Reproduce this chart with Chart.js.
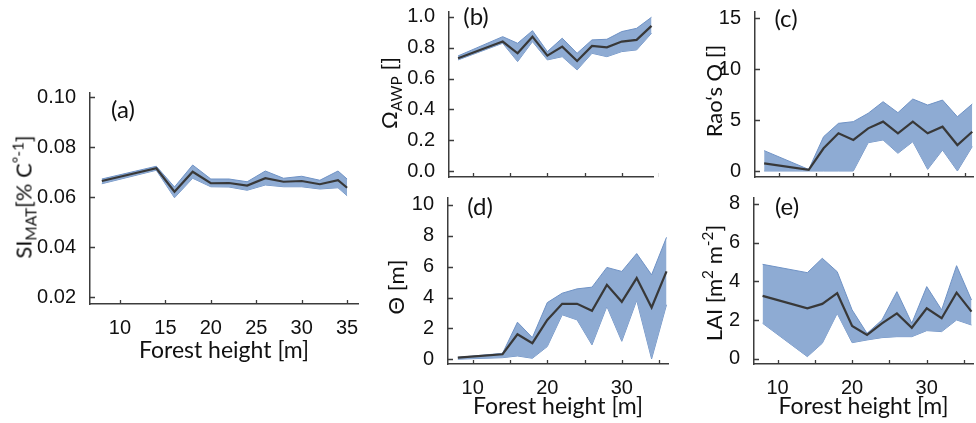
<!DOCTYPE html>
<html>
<head>
<meta charset="utf-8">
<script src="https://cdn.jsdelivr.net/npm/chart.js@4.4.1/dist/chart.umd.min.js"></script>
<style>
  body { margin: 0; background: #fff; }
  #fig { position: relative; width: 976px; height: 423px; overflow: hidden; font-family: Lato, "Open Sans", sans-serif; color: #111; }
  canvas { position: absolute; }
  .ytitle { position: absolute; transform: translate(-50%, -50%) rotate(-90deg); white-space: nowrap; font-size: 22px; }
  .tag { position: absolute; transform: translate(-50%, -50%); font-size: 24px; }
  sub, sup { font-size: 0.7em; line-height: 0; }
</style>
</head>
<body>
<div id="fig">
  <canvas id="panelA" width="366" height="284" style="left:0px;top:80px"></canvas>
  <canvas id="panelB" width="260" height="183" style="left:399px;top:0px"></canvas>
  <canvas id="panelC" width="266" height="183" style="left:710px;top:0px"></canvas>
  <canvas id="panelD" width="276" height="234" style="left:398px;top:186px"></canvas>
  <canvas id="panelE" width="267" height="234" style="left:709px;top:186px"></canvas>

  <div class="ytitle" style="left:23px;top:197px">SI<sub>MAT</sub>[% C<sup>°-1</sup>]</div>
  <div class="ytitle" style="left:388px;top:93px">Ω<sub>AWP</sub> []</div>
  <div class="ytitle" style="left:713px;top:91px">Rao‘s Q []</div>
  <div class="ytitle" style="left:395px;top:287px">Θ [m]</div>
  <div class="ytitle" style="left:713px;top:283px">LAI [m<sup>2</sup> m<sup>-2</sup>]</div>

  <div class="tag" style="left:123px;top:108px">(a)</div>
  <div class="tag" style="left:476px;top:15px">(b)</div>
  <div class="tag" style="left:786px;top:17px">(c)</div>
  <div class="tag" style="left:480px;top:205px">(d)</div>
  <div class="tag" style="left:787px;top:205px">(e)</div>
</div>

<script>
// forest height bins
const heightsA = [8, 14, 16, 18, 20, 22, 24, 26, 28, 30, 32, 34, 35];
const heightsB = [8, 14, 16, 18, 20, 22, 24, 26, 28, 30, 32, 34];
const heights = [8, 14, 16, 18, 20, 22, 24, 26, 28, 30, 32, 34, 36];

// (a) SI_MAT
const siMean  = [0.0664, 0.0715, 0.0621, 0.0701, 0.0655, 0.0656, 0.0646, 0.0675, 0.0661, 0.0664, 0.0651, 0.0667, 0.0637];
const siUpper = [0.0672, 0.0723, 0.0640, 0.0728, 0.0672, 0.0672, 0.0661, 0.0704, 0.0675, 0.0683, 0.0667, 0.0704, 0.0672];
const siLower = [0.0653, 0.0707, 0.0597, 0.0675, 0.0641, 0.0640, 0.0627, 0.0648, 0.0641, 0.0641, 0.0632, 0.0637, 0.0605];

// (b) Omega_AWP
const omegaMean  = [0.732, 0.840, 0.764, 0.872, 0.749, 0.807, 0.714, 0.812, 0.803, 0.840, 0.851, 0.942];
const omegaUpper = [0.747, 0.872, 0.829, 0.911, 0.775, 0.862, 0.764, 0.851, 0.855, 0.905, 0.926, 0.998];
const omegaLower = [0.721, 0.829, 0.710, 0.840, 0.721, 0.742, 0.656, 0.764, 0.742, 0.775, 0.786, 0.894];

// (c) Rao's Q
const raoMean  = [0.75, 0.12, 2.23, 3.70, 3.05, 4.19, 4.85, 3.70, 4.85, 3.70, 4.35, 2.55, 3.86];
const raoUpper = [2.0, 0.15, 3.37, 4.68, 4.85, 5.67, 6.81, 5.73, 7.07, 6.48, 6.97, 5.33, 6.58];
const raoLower = [0.0, 0.0, 0.0, 0.0, 0.0, 2.78, 3.05, 1.74, 2.88, 0.16, 2.06, 0.0, 2.4];

// (d) Theta
const thetaMean  = [0.1, 0.32, 1.62, 1.04, 2.55, 3.59, 3.59, 3.14, 4.82, 3.72, 5.26, 3.35, 5.69];
const thetaUpper = [0.12, 0.38, 2.4, 1.4, 3.67, 4.28, 4.56, 4.67, 5.95, 5.69, 6.85, 5.47, 7.9];
const thetaLower = [0.0, 0.1, 0.21, 0.06, 0.82, 2.88, 2.55, 0.93, 3.42, 1.16, 3.82, 0.02, 3.53];

// (e) LAI
const laiMean  = [3.25, 2.61, 2.84, 3.39, 1.70, 1.24, 1.84, 2.35, 1.61, 2.61, 2.10, 3.42, 2.44];
const laiUpper = [4.88, 4.45, 5.19, 4.50, 2.53, 1.32, 2.01, 3.47, 1.84, 3.73, 2.53, 4.81, 3.04];
const laiLower = [1.84, 0.12, 0.81, 2.35, 0.84, 0.98, 1.10, 1.15, 1.15, 1.46, 1.41, 2.01, 1.75];

// ticks
const xTicks = [10, 15, 20, 25, 30, 35];
const xLabelsAll = [10, 15, 20, 25, 30, 35];
const xLabelsSparse = [10, 20, 30];
const yTicksA = [0.02, 0.04, 0.06, 0.08, 0.10];
const yTicksB = [0, 0.2, 0.4, 0.6, 0.8, 1.0];
const yTicksC = [0, 5, 10, 15];
const yTicksD = [0, 2, 4, 6, 8, 10];
const yTicksE = [0, 2, 4, 6, 8];

const axisColor = '#3c3c3c';
const bandColor = '#8eabd3';
const bandEdge = '#6f92c5';
const lineColor = '#383838';

Chart.defaults.font.family = '"Liberation Sans", Arial, sans-serif';
Chart.defaults.font.size = 20;
Chart.defaults.color = '#111';

// tick marks drawn inward from the axes
const innerTicks = {
  id: 'innerTicks',
  afterDatasetsDraw(chart) {
    const { ctx, chartArea, scales } = chart;
    ctx.save();
    ctx.strokeStyle = axisColor;
    ctx.lineWidth = 1.3;
    ctx.beginPath();
    scales.x.ticks.forEach(t => {
      const px = Math.round(scales.x.getPixelForValue(t.value)) + 0.5;
      ctx.moveTo(px, chartArea.bottom);
      ctx.lineTo(px, chartArea.bottom - 4);
    });
    scales.y.ticks.forEach(t => {
      const py = Math.round(scales.y.getPixelForValue(t.value)) + 0.5;
      ctx.moveTo(chartArea.left, py);
      ctx.lineTo(chartArea.left + 5, py);
    });
    ctx.stroke();
    ctx.restore();
  }
};

function toPoints(xs, ys) {
  return xs.map((x, i) => ({ x: x, y: ys[i] }));
}

function makePanel(id, p) {
  const ctx = document.getElementById(id).getContext('2d');
  return new Chart(ctx, {
    type: 'line',
    data: {
      datasets: [
        {
          data: toPoints(p.xs, p.mean),
          borderColor: lineColor,
          borderWidth: 2.2,
          pointRadius: 0,
          fill: false
        },
        {
          data: toPoints(p.xs, p.upper),
          borderColor: bandEdge,
          borderWidth: 1,
          pointRadius: 0,
          backgroundColor: bandColor,
          fill: '+1'
        },
        {
          data: toPoints(p.xs, p.lower),
          borderColor: bandEdge,
          borderWidth: 1,
          pointRadius: 0,
          fill: false
        }
      ]
    },
    options: {
      responsive: false,
      animation: false,
      devicePixelRatio: 1,
      layout: { padding: { top: p.pt, right: p.pr, left: 0, bottom: 0 } },
      plugins: { legend: { display: false }, tooltip: { enabled: false } },
      elements: { line: { tension: 0 } },
      scales: {
        x: {
          type: 'linear',
          min: p.xMin,
          max: p.xMax,
          grid: { display: false },
          border: { display: true, color: axisColor, width: 1.5 },
          afterBuildTicks: s => { s.ticks = xTicks.map(v => ({ value: v })); },
          afterFit: s => { s.height = p.h; s.paddingLeft = 0; s.paddingRight = 0; },
          ticks: {
            display: p.xLabels.length > 0,
            autoSkip: false,
            maxRotation: 0,
            padding: 4,
            callback: v => (p.xLabels.includes(v) ? String(v) : '')
          },
          title: {
            display: p.xTitle,
            text: 'Forest height [m]',
            color: '#111',
            font: { family: 'Lato, "Open Sans", sans-serif', size: 23 },
            padding: { top: 0, bottom: 0 }
          }
        },
        y: {
          min: p.yMin,
          max: p.yMax,
          grid: { display: false },
          border: { display: true, color: axisColor, width: 1.5 },
          afterBuildTicks: s => { s.ticks = p.yTicks.map(v => ({ value: v })); },
          afterFit: s => { s.width = p.w; s.paddingTop = 0; s.paddingBottom = 0; },
          ticks: {
            autoSkip: false,
            padding: 6,
            callback: v => v.toFixed(p.dec)
          }
        }
      }
    },
    plugins: [innerTicks]
  });
}

makePanel('panelA', {
  xs: heightsA, mean: siMean, upper: siUpper, lower: siLower,
  xMin: 6.7, xMax: 36.2, yMin: 0.0172, yMax: 0.1016, yTicks: yTicksA, dec: 2,
  xLabels: xLabelsAll, xTitle: true, w: 90, h: 60, pt: 13, pr: 8
});
makePanel('panelB', {
  xs: heightsB, mean: omegaMean, upper: omegaUpper, lower: omegaLower,
  xMin: 6.78, xMax: 34.2, yMin: -0.039, yMax: 1.032, yTicks: yTicksB, dec: 1,
  xLabels: [], xTitle: false, w: 50, h: 6, pt: 12, pr: 6
});
makePanel('panelC', {
  xs: heights, mean: raoMean, upper: raoUpper, lower: raoLower,
  xMin: 6.77, xMax: 36.1, yMin: -0.59, yMax: 15.62, yTicks: yTicksC, dec: 0,
  xLabels: [], xTitle: false, w: 45, h: 6, pt: 12, pr: 3
});
makePanel('panelD', {
  xs: heights, mean: thetaMean, upper: thetaUpper, lower: thetaLower,
  xMin: 6.68, xMax: 36.2, yMin: -0.31, yMax: 10.45, yTicks: yTicksD, dec: 0,
  xLabels: xLabelsSparse, xTitle: true, w: 50, h: 56, pt: 12, pr: 6
});
makePanel('panelE', {
  xs: heights, mean: laiMean, upper: laiUpper, lower: laiLower,
  xMin: 6.85, xMax: 36.2, yMin: -0.26, yMax: 8.3, yTicks: yTicksE, dec: 0,
  xLabels: xLabelsSparse, xTitle: true, w: 45, h: 56, pt: 12, pr: 3
});
</script>
</body>
</html>
